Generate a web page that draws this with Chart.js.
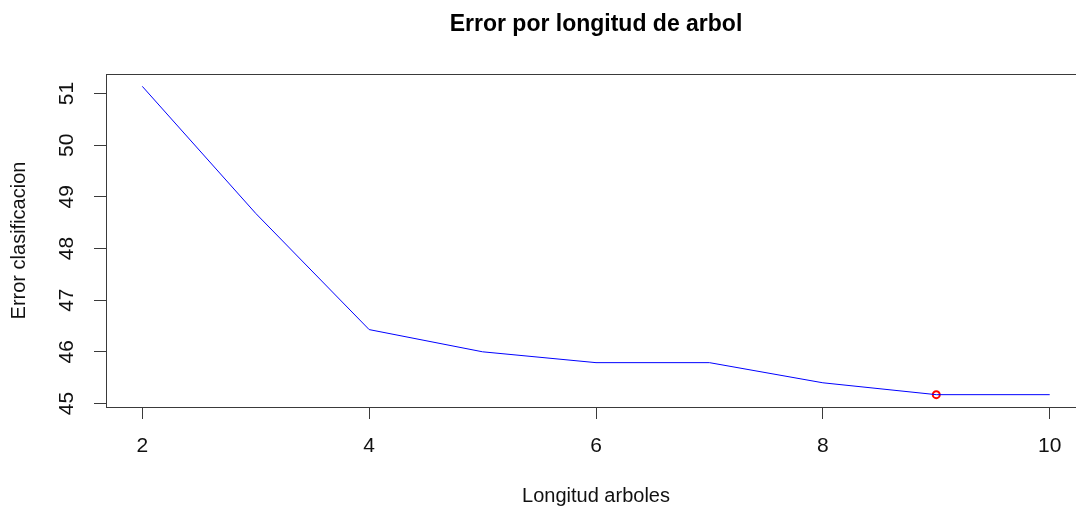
<!DOCTYPE html>
<html>
<head>
<meta charset="utf-8">
<script src="https://cdn.jsdelivr.net/npm/chart.js@4"></script>
<style>
  html, body { margin: 0; background: #fff; overflow: hidden; }
  /* el grafico original esta recortado a la derecha: el lienzo sobresale */
  #wrap { width: 1086px; height: 508px; position: relative; }
</style>
</head>
<body>
<div id="wrap"><canvas id="grafico"></canvas></div>
<script>
// datos
const longitud = [2, 3, 4, 5, 6, 7, 8, 9, 10];
const errorClas = [51.14, 48.68, 46.43, 46.00, 45.79, 45.79, 45.40, 45.17, 45.17];
const xTicks = [2, 4, 6, 8, 10];
const yTicks = [45, 46, 47, 48, 49, 50, 51];

const titulo = 'Error por longitud de arbol';
const tituloX = 'Longitud arboles';
const tituloY = 'Error clasificacion';

// el minimo se marca en rojo
let iMin = 0;
errorClas.forEach(function(v, i){ if (v < errorClas[iMin]) iMin = i });

// rango como en R (4% extra)
function rango(vals){
	let lo = Math.min(...vals), hi = Math.max(...vals);
	let d = (hi - lo) * 0.04;
	return [lo - d, hi + d];
}
const rx = rango(longitud);
const ry = rango(errorClas);

const negro = '#3a3a3a';
const fuente = 'Arial, "Liberation Sans", sans-serif';

// caja del grafico y titulo
const caja = {
	id: 'caja',
	afterDraw(chart){
		const a = chart.chartArea, ctx = chart.ctx;
		ctx.save();
		ctx.strokeStyle = negro;
		ctx.lineWidth = 1;
		ctx.strokeRect(Math.round(a.left) + 0.5, Math.round(a.top) + 0.5,
			Math.round(a.right - a.left) - 1, Math.round(a.bottom - a.top));
		ctx.fillStyle = '#000';
		ctx.font = 'bold 23px ' + fuente;
		ctx.textAlign = 'center';
		ctx.textBaseline = 'middle';
		ctx.fillText(titulo, (a.left + a.right) / 2, 25);
		ctx.restore();
	}
};

new Chart(document.getElementById('grafico'), {
	type: 'line',
	data: {
		datasets: [
			{
				data: longitud.map((x, i) => ({x: x, y: errorClas[i]})),
				borderColor: '#0000ff',
				borderWidth: 1,
				pointRadius: 0,
				tension: 0
			},
			{
				data: [{x: longitud[iMin], y: errorClas[iMin]}],
				showLine: false,
				pointRadius: 3.5,
				pointBorderWidth: 2,
				pointBorderColor: '#ff0000',
				pointBackgroundColor: 'rgba(0,0,0,0)'
			}
		]
	},
	options: {
		responsive: true,
		maintainAspectRatio: false,
		animation: false,
		layout: { autoPadding: false, padding: { top: 74, right: 0, left: 0, bottom: 0 } },
		plugins: { legend: { display: false }, tooltip: { enabled: false } },
		scales: {
			x: {
				type: 'linear',
				min: rx[0],
				max: rx[1],
				afterBuildTicks: s => { s.ticks = xTicks.map(v => ({value: v})) },
				afterFit: s => { s.height = 101 },
				border: { display: false },
				grid: { drawOnChartArea: false, drawTicks: true, tickLength: 12, color: negro },
				ticks: {
					color: '#111',
					font: { family: fuente, size: 21 },
					padding: 15,
					maxRotation: 0,
					callback: v => String(v)
				},
				title: {
					display: true,
					text: tituloX,
					color: '#111',
					font: { family: fuente, size: 20 },
					padding: { top: 0, bottom: 0 }
				}
			},
			y: {
				type: 'linear',
				min: ry[0],
				max: ry[1],
				afterBuildTicks: s => { s.ticks = yTicks.map(v => ({value: v})) },
				afterFit: s => { s.width = 106 },
				border: { display: false },
				grid: { drawOnChartArea: false, drawTicks: true, tickLength: 12, color: negro },
				ticks: {
					color: '#111',
					font: { family: fuente, size: 21 },
					padding: 15,
					minRotation: 90,
					maxRotation: 90,
					crossAlign: 'center',
					callback: v => String(v)
				},
				title: {
					display: true,
					text: tituloY,
					color: '#111',
					font: { family: fuente, size: 20 },
					padding: { top: 7, bottom: 0 }
				}
			}
		}
	},
	plugins: [caja]
});
</script>
</body>
</html>
